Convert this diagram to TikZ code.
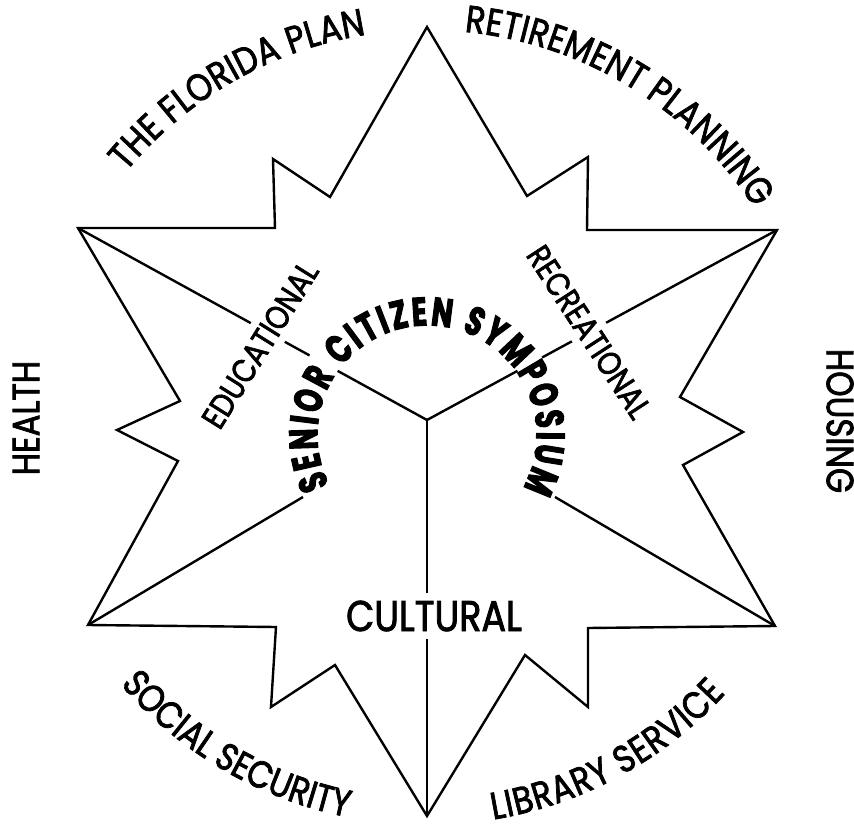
\documentclass[tikz,border=0pt]{standalone}
\usepackage{fontspec}
\setmainfont{Poppins}
\newfontfamily\labelfont{Poppins}[FakeStretch=0.85,FakeBold=2]
\newfontfamily\hubfont{Poppins}[FakeStretch=0.7,FakeBold=2.5]
\usetikzlibrary{decorations.text}

\newcommand\ringsize{\labelfont\fontsize{38}{38}\selectfont}
\newcommand\midsize{\labelfont\fontsize{33}{33}\selectfont}
\newcommand\bigsize{\labelfont\fontsize{43}{43}\selectfont}
\newcommand\hubsize{\hubfont\bfseries\fontsize{40}{40}\selectfont}

\begin{document}
\begin{tikzpicture}[x=1pt,y=1pt,line width=2.4pt,
    lbl/.style={font=\ringsize,inner sep=0pt},
    cut/.style={font=\midsize,fill=white,inner xsep=2pt,inner ysep=7.5pt},
    ringtext/.style={decorate,decoration={text along path,text align={fit to path},text={|\ringsize|#1}}},
    hubtext/.style={decorate,decoration={text along path,text align={fit to path},text={|\hubsize|#1}}}]
  \useasboundingbox (-427,-407) rectangle (427,420);
  \fill[white] (-427,-407) rectangle (427,420);

  \coordinate (C) at (0,0);
  \coordinate (top) at (0,393);
  \coordinate (ur) at (350,190);
  \coordinate (lr) at (348,-206);
  \coordinate (bot) at (0,-396);
  \coordinate (ll) at (-339,-205);
  \coordinate (ul) at (-349,192);
  \coordinate (llend) at (-124,-77);
  \coordinate (lrend) at (128,-77);

  % star outline
  \draw (top) -- (100,224) -- (161,263) -- (160,190) -- (ur) -- (253,23) -- (316,-12) -- (256,-45) -- (lr)
    -- (161,-208) -- (161,-287) -- (98,-235) -- (bot) -- (-92,-245) -- (-156,-287) -- (-151,-207) -- (ll)
    -- (-249,-41) -- (-310,-10) -- (-247,19) -- (ul) -- (-152,192) -- (-154,261) -- (-97,223) -- cycle;

  % spokes
  \draw (C) -- (151.2:102) (ul) -- (151.2:134);
  \draw (C) -- (28.5:103) (ur) -- (28.5:131);
  \draw (ll) -- (llend) (lr) -- (lrend);
  \draw (C) -- (bot);

  \node[cut,font=\bigsize] (cultural) at (7,-196) {CULTURAL};
  \node[cut,rotate=58] (edu) at (-167,75) {EDUCATIONAL};
  \node[cut,rotate=-57] (rec) at (162,88) {RECREATIONAL};
  \node[lbl,rotate=90] (health) at (-401,2) {HEALTH};
  \node[lbl,rotate=-90] (housing) at (413,-1) {HOUSING};

  \path[hubtext={SENIOR CITIZEN SYMPOSIUM},shift={(0,-15)}] (207:109.5) arc[start angle=207,end angle=-29,radius=109.5];
  \path[ringtext={THE FLORIDA PLAN}] (140.5:390) arc[start angle=140.5,end angle=99,radius=390];
  \path[ringtext={RETIREMENT PLANNING}] (84.5:390) arc[start angle=84.5,end angle=32.9,radius=390];
  \path[ringtext={SOCIAL SECURITY}] (220.8:405) arc[start angle=220.8,end angle=258.4,radius=405];
  \path[ringtext={LIBRARY SERVICE}] (279.4:405) arc[start angle=279.4,end angle=317.5,radius=405];
\end{tikzpicture}
\end{document}
